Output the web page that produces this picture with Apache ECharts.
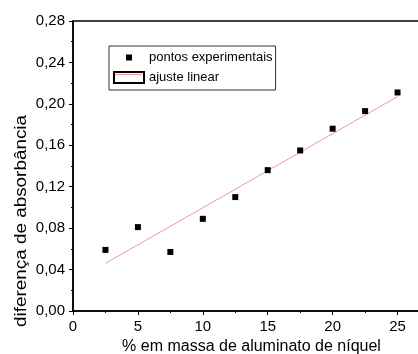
<!DOCTYPE html>
<html>
<head>
<meta charset="utf-8">
<script src="https://cdn.jsdelivr.net/npm/echarts@6/dist/echarts.min.js"></script>
<style>
  html, body { margin: 0; padding: 0; background: #fff; }
  #chart { width: 418px; height: 354px; }
</style>
</head>
<body>
<div id="chart"></div>
<script>
// dados
const massPct = [2.5, 5, 7.5, 10, 12.5, 15, 17.5, 20, 22.5, 25];
const absDiff = [0.059, 0.081, 0.057, 0.089, 0.110, 0.136, 0.155, 0.176, 0.193, 0.211];
const fitX = [2.5, 25];
const fitY = [0.046, 0.207];
const seriesNames = ['pontos experimentais', 'ajuste linear'];
const xTitle = '% em massa de aluminato de níquel';
const yTitle = 'diferença de absorbância';

const font = 'Arial, "Liberation Sans", sans-serif';
let chart = echarts.init(document.getElementById('chart'));

let option = {
  animation: false,
  backgroundColor: '#fff',
  grid: {
    left: 73,
    top: 21,
    bottom: 43,
    right: -12,
    outerBoundsMode: 'none',
    containLabel: false,
    show: true,
    borderColor: '#000',
    borderWidth: 1.5
  },
  legend: {
    orient: 'vertical',
    left: 109,
    top: 46,
    padding: [5, 3, 6, 4],
    itemGap: 7,
    itemWidth: 30,
    itemHeight: 11,
    borderColor: '#333',
    borderWidth: 1,
    textStyle: { fontFamily: font, fontSize: 13, color: '#000' },
    data: [
      { name: seriesNames[0], icon: 'path://M0,0M30,11M12,2.5h6v6h-6z', itemStyle: { color: '#000', opacity: 1 } },
      { name: seriesNames[1], icon: 'rect', itemStyle: { color: 'rgba(255,255,255,0)', borderColor: '#000', borderWidth: 2 } }
    ]
  },
  graphic: [
    { // linha vermelha dentro do ícone da legenda
      type: 'line',
      silent: true,
      zlevel: 1,
      z: 100,
      shape: { x1: 115, y1: 74.5, x2: 142, y2: 74.5 },
      style: { stroke: '#ee9999', lineWidth: 1 }
    },
    {
      type: 'text',
      x: 22,
      y: 221,
      rotation: Math.PI / 2,
      scaleX: 1.18,
      style: {
        text: yTitle,
        fontFamily: font,
        fontSize: 16,
        fill: '#000',
        align: 'center',
        verticalAlign: 'middle'
      }
    }
  ],
  xAxis: {
    type: 'value',
    min: 0,
    max: 27.5,
    interval: 5,
    name: xTitle,
    nameLocation: 'middle',
    nameGap: 28,
    nameTextStyle: { fontFamily: font, fontSize: 16, color: '#000' },
    axisLine: { show: true, lineStyle: { color: '#000', width: 1.5 } },
    axisTick: { show: true, length: 4, lineStyle: { color: '#000', width: 1 } },
    minorTick: { show: true, splitNumber: 2, length: 2, lineStyle: { color: '#000', width: 1 } },
    splitLine: { show: false },
    axisLabel: {
      margin: 8,
      fontFamily: font,
      fontSize: 15,
      color: '#000',
      formatter: function (v) { return v > 25 ? '' : String(v); }
    }
  },
  yAxis: {
    type: 'value',
    min: 0,
    max: 0.28,
    interval: 0.04,
    axisLine: { show: true, lineStyle: { color: '#000', width: 1.5 } },
    axisTick: { show: true, length: 4, lineStyle: { color: '#000', width: 1 } },
    minorTick: { show: true, splitNumber: 2, length: 2, lineStyle: { color: '#000', width: 1 } },
    splitLine: { show: false },
    axisLabel: {
      margin: 8,
      fontFamily: font,
      fontSize: 15,
      color: '#000',
      formatter: function (v) { return v.toFixed(2).replace('.', ','); }
    }
  },
  series: [
    {
      name: seriesNames[0],
      type: 'scatter',
      symbol: 'rect',
      symbolSize: 6,
      itemStyle: { color: '#000', opacity: 1 },
      z: 3,
      data: massPct.map((x, i) => [x, absDiff[i]])
    },
    {
      name: seriesNames[1],
      type: 'line',
      symbol: 'none',
      lineStyle: { color: '#ee9999', width: 1 },
      itemStyle: { color: '#ee9999' },
      z: 2,
      data: fitX.map((x, i) => [x, fitY[i]])
    }
  ]
};

chart.setOption(option);
window.addEventListener('resize', function () {
  chart.resize();
});
</script>
</body>
</html>
